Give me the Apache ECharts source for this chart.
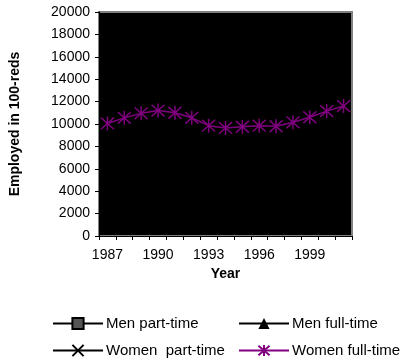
<!DOCTYPE html>
<html>
<head>
<meta charset="utf-8">
<script src="https://cdn.jsdelivr.net/npm/echarts@6/dist/echarts.min.js"></script>
<style>html,body{margin:0;padding:0;background:#fff}#c{width:404px;height:361px}</style>
</head>
<body>
<div id="c"></div>
<script>
// Data
var years = ['1987','1988','1989','1990','1991','1992','1993','1994','1995','1996','1997','1998','1999','2000','2001'];
var menPartTime = [null,null,null,null,null,null,null,null,null,null,null,null,null,null,null];
var menFullTime = [null,null,null,null,null,null,null,null,null,null,null,null,null,null,null];
var womenPartTime = [null,null,null,null,null,null,null,null,null,null,null,null,null,null,null];
var womenFullTime = [10050, 10550, 10950, 11200, 11000, 10550, 9850, 9650, 9750, 9850, 9800, 10150, 10600, 11150, 11600];
var yTicks = { min: 0, max: 20000, interval: 2000 };

var FONT = 'Liberation Sans, Arial, sans-serif';
var starPath = 'path://M-5,-5L5,5M5,-5L-5,5M0,-6L0,6';
var xPath = 'path://M-5,-5L5,5M5,-5L-5,5';

var chart = echarts.init(document.getElementById('c'), null, { renderer: 'canvas' });

function legendAt(name, left, top) {
  return {
    data: [name], left: left, top: top, orient: 'horizontal',
    itemWidth: 50, itemHeight: 14, itemGap: 0, padding: 0,
    textStyle: { fontFamily: FONT, fontSize: 15, color: '#000', padding: [0,0,0,-2] },
    selectedMode: false
  };
}

chart.setOption({
  animation: false,
  backgroundColor: '#fff',
  grid: {
    left: 91, top: 12, right: 52, bottom: 125,
    show: true, backgroundColor: '#000', borderColor: '#808080', borderWidth: 2
  },
  legend: [
    legendAt('Men part-time', 52, 316),
    legendAt('Men full-time', 238, 316),
    legendAt('Women  part-time', 52, 343),
    legendAt('Women full-time', 238, 343)
  ],
  xAxis: {
    type: 'category', data: years, boundaryGap: true,
    name: 'Year', nameLocation: 'middle', nameGap: 28,
    nameTextStyle: { fontFamily: FONT, fontSize: 14, fontWeight: 'bold', color: '#000' },
    axisLine: { lineStyle: { color: '#000', width: 1 } },
    axisTick: { show: true, interval: 0, length: 4, inside: false, lineStyle: { color: '#000' } },
    axisLabel: { interval: 2, margin: 12, fontFamily: FONT, fontSize: 14, color: '#000' },
    splitLine: { show: false }
  },
  yAxis: {
    type: 'value', min: yTicks.min, max: yTicks.max, interval: yTicks.interval,
    name: 'Employed in 100-reds', nameLocation: 'middle', nameGap: 77, nameRotate: 90,
    nameTextStyle: { fontFamily: FONT, fontSize: 14, fontWeight: 'bold', color: '#000' },
    axisLine: { show: true, lineStyle: { color: '#000', width: 1 } },
    axisTick: { show: true, length: 4, lineStyle: { color: '#000' } },
    axisLabel: { margin: 9, fontFamily: FONT, fontSize: 14, color: '#000',
      formatter: function (v) { return String(v); } },
    splitLine: { show: false }
  },
  series: [
    { name: 'Men part-time', type: 'line', data: menPartTime, symbol: 'rect', symbolSize: 7, showAllSymbol: true,
      lineStyle: { color: '#000', width: 1.5 }, itemStyle: { color: '#555', borderColor: '#000', borderWidth: 1.5 } },
    { name: 'Men full-time', type: 'line', data: menFullTime, symbol: 'triangle', symbolSize: 10, showAllSymbol: true,
      lineStyle: { color: '#000', width: 1.5 }, itemStyle: { color: '#000' } },
    { name: 'Women  part-time', type: 'line', data: womenPartTime, symbol: xPath, symbolSize: 10, showAllSymbol: true,
      lineStyle: { color: '#000', width: 1.5 }, itemStyle: { color: '#000', borderColor: '#000', borderWidth: 1.5 } },
    { name: 'Women full-time', type: 'line', data: womenFullTime, symbol: starPath, symbolSize: [13, 14], showAllSymbol: true,
      lineStyle: { color: '#800080', width: 1.5 }, itemStyle: { color: '#800080', borderColor: '#800080', borderWidth: 1.5 } }
  ]
});
</script>
</body>
</html>
